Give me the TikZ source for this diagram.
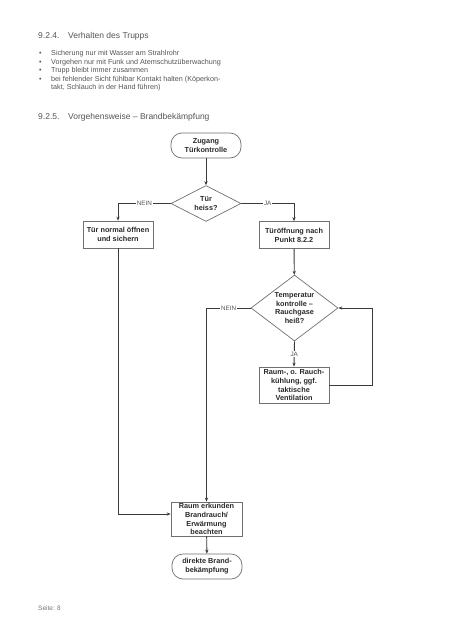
\documentclass[tikz,border=0pt]{standalone}
\usepackage{fontspec}
\setmainfont{Liberation Sans}
\usetikzlibrary{shapes.geometric,arrows.meta}
\definecolor{bodytxt}{HTML}{555555}
\definecolor{linec}{HTML}{3A3A3A}
\definecolor{boxc}{HTML}{707070}
\definecolor{fctxt}{HTML}{2A2A2A}
\tikzset{
  hd/.style={anchor=base west,inner sep=0pt,text=bodytxt,font=\fontsize{8.5}{10}\selectfont},
  bul/.style={anchor=base west,inner sep=0pt,text=bodytxt,font=\fontsize{7.2}{8.6}\selectfont,align=left},
  fcbase/.style={draw=boxc,line width=0.7pt,fill=white,text=fctxt,align=center,inner sep=0pt,
    font=\bfseries\fontsize{7.3}{8.8}\selectfont},
  termbox/.style={fcbase,rounded corners=11pt,minimum width=70pt,minimum height=25pt},
  procbox/.style={fcbase,minimum width=70pt},
  decis/.style={fcbase,diamond},
  conn/.style={draw=linec,line width=0.9pt,-{Stealth[length=4pt,width=3.2pt]}},
  lbl/.style={fill=white,inner sep=1pt,text=bodytxt,font=\fontsize{6.3}{7}\selectfont}
}
\begin{document}
\begin{tikzpicture}[x=1pt,y=-1pt]
\useasboundingbox[fill=white] (0,0) rectangle (453,640);

% text section
\node[hd] (h1n) at (38,38.5) {9.2.4.};
\node[hd] (h1t) at (68,38.5) {Verhalten des Trupps};
\node[bul] (b1) at (39,55.5) {•};
\node[bul] (t1) at (51,55.5) {Sicherung nur mit Wasser am Strahlrohr};
\node[bul] (b2) at (39,64) {•};
\node[bul] (t2) at (51,64) {Vorgehen nur mit Funk und Atemschutzüberwachung};
\node[bul] (b3) at (39,72.5) {•};
\node[bul] (t3) at (51,72.5) {Trupp bleibt immer zusammen};
\node[bul] (b4) at (39,81) {•};
\node[bul] (t4) at (51,81) {bei fehlender Sicht fühlbar Kontakt halten (Köperkon-};
\node[bul] (t5) at (51,89.5) {takt, Schlauch in der Hand führen)};
\node[hd] (h2n) at (38,119) {9.2.5.};
\node[hd] (h2t) at (68,119) {Vorgehensweise – Brandbekämpfung};

% flowchart
\node[termbox] (start) at (206,145.5) {Zugang\\Türkontrolle};
\node[decis,minimum width=70pt,minimum height=36pt,shape aspect=1.9] (d1) at (206,203.5) {Tür\\heiss?};
\node[procbox,minimum height=27pt] (tno) at (118,234.5) {Tür normal öffnen\\und sichern};
\node[procbox,minimum height=27pt] (tof) at (294,235) {Türöffnung nach\\Punkt 8.2.2};
\node[decis,minimum width=87pt,minimum height=66pt,shape aspect=1.3] (d2) at (294.5,308) {Temperatur\\kontrolle –\\Rauchgase\\heiß?};
\node[procbox,minimum height=36pt] (cool) at (294,385) {Raum-, o. Rauch-\\kühlung, ggf.\\taktische\\Ventilation};
\node[procbox,minimum height=34pt,minimum width=71pt] (re) at (206.5,519) {Raum erkunden\\Brandrauch/\\Erwärmung\\beachten};
\node[termbox] (fin) at (207,566.5) {direkte Brand-\\bekämpfung};
\coordinate (fb) at (372,385);

\draw[conn] (start) -- (d1);
\draw[conn] (d1.west) -- node[lbl]{NEIN} (d1.west -| tno.north) -- (tno.north);
\draw[conn] (d1.east) -- node[lbl]{JA} (d1.east -| tof.north) -- (tof.north);
\draw[conn] (tof) -- (d2);
\draw[conn] (d2.west) -- node[lbl]{NEIN} (d2.west -| re.north) -- (re.north);
\draw[conn] (d2.south) -- node[lbl]{JA} (cool.north);
\draw[conn] (cool.east) -- (fb) |- (d2.east);
\draw[conn] (tno.south) |- ([yshift=5pt]re.west);
\draw[conn] (re) -- (fin);

\node[anchor=base west,inner sep=0pt,text=bodytxt!80,font=\fontsize{6.5}{8}\selectfont] (seite) at (38,610) {Seite: 8};
\end{tikzpicture}
\end{document}
